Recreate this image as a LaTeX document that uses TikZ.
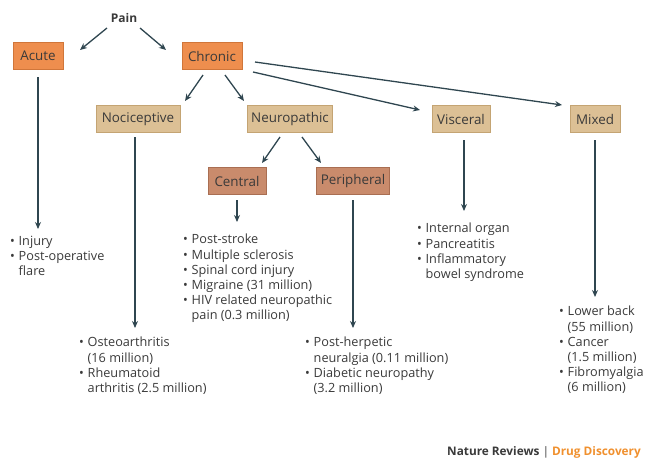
\documentclass[tikz,border=0pt]{standalone}
\usepackage{fontspec}
\setmainfont{Open Sans}
\usetikzlibrary{arrows.meta}
\definecolor{arr}{HTML}{2F4650}
\definecolor{orfill}{HTML}{EE8E4E}
\definecolor{ordraw}{HTML}{D0763A}
\definecolor{tanfill}{HTML}{DCC095}
\definecolor{tandraw}{HTML}{C4A473}
\definecolor{brfill}{HTML}{C98B6C}
\definecolor{brdraw}{HTML}{A96E52}
\definecolor{txt}{HTML}{3A3A3A}
\definecolor{ndorange}{HTML}{F0902E}
\newcommand{\bu}{\makebox[8.5pt][l]{\textbullet}}
\newcommand{\ib}{\makebox[8.5pt][l]{}}
\tikzset{
  x=1pt,y=-1pt,
  box/.style={draw, line width=1pt, minimum height=27pt, inner xsep=4pt, font=\fontsize{13.4}{15}\selectfont, text=txt},
  orbox/.style={box, fill=orfill, draw=ordraw},
  tanbox/.style={box, fill=tanfill, draw=tandraw},
  brbox/.style={box, fill=brfill, draw=brdraw},
  conn/.style={draw=arr, line width=1.3pt, -{Stealth[length=7pt,width=6pt]}},
  lst/.style={anchor=north west, align=left, inner sep=0pt, text=txt, font=\fontsize{12.7}{15.2}\selectfont},
}
\begin{document}
\begin{tikzpicture}
\useasboundingbox (0,0) rectangle (646,466);
\node[font=\bfseries\fontsize{12}{14}\selectfont, text=txt] (pain) at (124,18) {Pain};
\node[orbox, minimum width=50pt] (acute) at (38,56) {Acute};
\node[orbox, minimum width=60pt] (chronic) at (212,56) {Chronic};
\node[tanbox, minimum width=84pt] (noci) at (138,119) {Nociceptive};
\node[tanbox, minimum width=80pt] (neuro) at (290,119) {Neuropathic};
\node[tanbox, minimum width=58pt] (visc) at (461,119) {Visceral};
\node[tanbox, minimum width=50pt] (mixed) at (595,119) {Mixed};
\node[brbox, minimum width=58pt] (central) at (237,181) {Central};
\node[brbox, minimum width=71pt] (periph) at (353,181) {Peripheral};

\coordinate (p1) at (107,28); \coordinate (a1) at (80,50);
\coordinate (p2) at (140,28); \coordinate (c1) at (166,50);
\draw[conn] (p1) -- (a1);
\draw[conn] (p2) -- (c1);
\coordinate (c2) at (203,75); \coordinate (n1) at (185,101);
\coordinate (c3) at (225,75); \coordinate (n2) at (244,101);
\coordinate (c4) at (253,72); \coordinate (v1) at (420,110);
\coordinate (c5) at (255,62); \coordinate (m1) at (562,105);
\draw[conn] (c2) -- (n1);
\draw[conn] (c3) -- (n2);
\draw[conn] (c4) -- (v1);
\draw[conn] (c5) -- (m1);
\coordinate (n3) at (280,137); \coordinate (ce1) at (262,163);
\coordinate (n4) at (302,137); \coordinate (pe1) at (321,163);
\draw[conn] (n3) -- (ce1);
\draw[conn] (n4) -- (pe1);

\node[lst] (lacute) at (10,236) {\bu Injury\\ \bu Post-operative\\ \ib flare};
\node[lst] (lnoci) at (79,337) {\bu Osteoarthritis\\ \ib (16 million)\\ \bu Rheumatoid\\ \ib arthritis (2.5 million)};
\node[lst] (lcent) at (183,234) {\bu Post-stroke\\ \bu Multiple sclerosis\\ \bu Spinal cord injury\\ \bu Migraine (31 million)\\ \bu HIV related neuropathic\\ \ib pain (0.3 million)};
\node[lst] (lper) at (305,337) {\bu Post-herpetic\\ \ib neuralgia (0.11 million)\\ \bu Diabetic neuropathy\\ \ib (3.2 million)};
\node[lst] (lvis) at (417,223) {\bu Internal organ\\ \bu Pancreatitis\\ \bu Inflammatory\\ \ib bowel syndrome};
\node[lst] (lmix) at (559,306) {\bu Lower back\\ \ib (55 million)\\ \bu Cancer\\ \ib (1.5 million)\\ \bu Fibromyalgia\\ \ib (6 million)};

\draw[conn] (acute.south |- 0,77) -- (acute.south |- 0,229);
\draw[conn] (135,137) -- (135,328);
\draw[conn] (central.south |- 0,200) -- (central.south |- 0,222);
\draw[conn] (periph.south |- 0,200) -- (periph.south |- 0,328);
\draw[conn] (464,140) -- (464,211);
\draw[conn] (mixed.south |- 0,140) -- (mixed.south |- 0,297);

\node[anchor=east, inner sep=0pt, font=\bfseries\fontsize{11.8}{14}\selectfont] (foot) at (641,452) {\textcolor{txt}{Nature Reviews} \textcolor{gray}{|} \textcolor{ndorange}{Drug Discovery}};
\end{tikzpicture}
\end{document}
